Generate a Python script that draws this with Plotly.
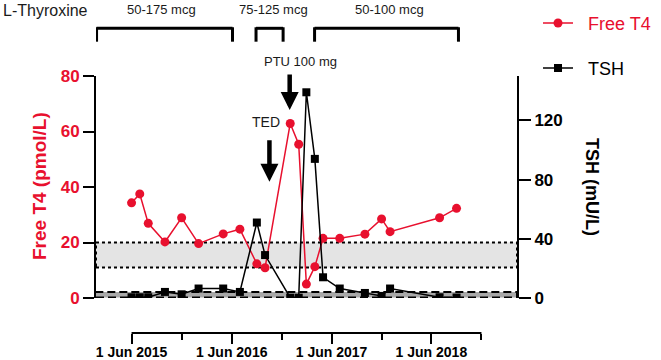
import plotly.graph_objects as go

# ---- data ----
dates = ["2015-06-01", "2015-07-01", "2015-08-01", "2015-10-01", "2015-12-01",
         "2016-02-01", "2016-05-01", "2016-07-01", "2016-09-01", "2016-10-01",
         "2017-01-01", "2017-02-01", "2017-03-01", "2017-04-01", "2017-05-01",
         "2017-07-01", "2017-10-01", "2017-12-01", "2018-01-01", "2018-07-01",
         "2018-09-01"]
free_t4 = [34.3, 37.5, 26.9, 20.2, 28.9, 19.6, 23.1, 24.8, 12.3, 10.9,
           62.9, 55.4, 5.0, 11.3, 21.5, 21.5, 23.0, 28.5, 23.9, 28.9, 32.3]
tsh = [0.5, 0.5, 0.5, 4.1, 2.5, 6.4, 6.4, 4.1, 51, 29,
       0.2, 0.2, 139, 94, 14, 6.4, 3.4, 1.4, 6.4, 0.5, 0.3]

x_tick_vals = ["2015-06-01", "2016-06-01", "2017-06-01", "2018-06-01"]
x_tick_text = ["1 Jun 2015", "1 Jun 2016", "1 Jun 2017", "1 Jun 2018"]
x_minor_vals = ["2015-12-01", "2016-12-01", "2017-12-01", "2018-12-01"]
x_range = ["2015-01-22", "2019-04-10"]
x_line_span = ["2015-06-01", "2018-12-01"]

t4_ticks = [0, 20, 40, 60, 80]
tsh_ticks = [0, 40, 80, 120]
t4_ref = [11, 20]
tsh_ref = [0.4, 4]

bracket_starts = ["2015-01-24", "2016-08-29", "2017-03-31"]
bracket_ends = ["2016-06-04", "2016-12-06", "2018-09-08"]
bracket_labels = ["50-175 mcg", "75-125 mcg", "50-100 mcg"]
bracket_label_dates = ["2015-09-20", "2016-11-01", "2017-12-30"]

RED = "#e8102e"
FONT = "Liberation Sans, Arial, sans-serif"
TXT = "#1a1a1a"

fig = go.Figure()
fig.add_trace(go.Scatter(
    x=dates, y=free_t4, name="\u00a0\u00a0Free T4", mode="lines+markers",
    line=dict(color=RED, width=1.5),
    marker=dict(color=RED, size=9, symbol="circle"),
    legend="legend", yaxis="y", showlegend=True))
fig.add_trace(go.Scatter(
    x=dates, y=tsh, name="\u00a0\u00a0TSH", mode="lines+markers",
    line=dict(color="black", width=1.5),
    marker=dict(color="black", size=8, symbol="square"),
    legend="legend2", yaxis="y2", showlegend=True))

shapes = []
# reference bands
shapes.append(dict(type="rect", xref="paper", yref="y", x0=0, x1=1,
                   y0=t4_ref[0], y1=t4_ref[1], fillcolor="#e4e4e4",
                   line=dict(color="black", width=2, dash="3px,3px"), layer="below"))
shapes.append(dict(type="rect", xref="paper", yref="y2", x0=0, x1=1,
                   y0=tsh_ref[0], y1=tsh_ref[1], fillcolor="#a8a8a8",
                   line=dict(color="black", width=2, dash="8px,4px"), layer="below"))
# x axis line (only over the ticked span)
shapes.append(dict(type="line", xref="x", yref="paper", x0=x_line_span[0], x1=x_line_span[1],
                   y0=0, y1=0, line=dict(color="black", width=2)))
# dosing brackets
by_top, by_bot = 1.1856, 1.1335
for s, e in zip(bracket_starts, bracket_ends):
    shapes.append(dict(type="line", xref="x", yref="paper", x0=s, x1=e, y0=by_top, y1=by_top,
                       line=dict(color="black", width=3)))
    for xx in (s, e):
        shapes.append(dict(type="line", xref="x", yref="paper", x0=xx, x1=xx, y0=by_top + 0.004, y1=by_bot,
                           line=dict(color="black", width=3)))

C = dict(xanchor="center", yanchor="middle")
annotations = []
annotations.append(dict(text="L-Thyroxine", xref="paper", yref="paper", x=-0.119, y=1.253,
                        showarrow=False, font=dict(size=16, color=TXT, family=FONT), **C))
for lbl, d in zip(bracket_labels, bracket_label_dates):
    annotations.append(dict(text=lbl, xref="x", yref="paper", x=d, y=1.257,
                            showarrow=False, font=dict(size=13, color=TXT, family=FONT), **C))
annotations.append(dict(text="PTU 100 mg", xref="x", yref="paper", x="2017-02-07", y=1.058,
                        showarrow=False, font=dict(size=13, color=TXT, family=FONT), **C))
annotations.append(dict(text="TED", xref="x", yref="paper", x="2016-10-05", y=0.821,
                        showarrow=False, font=dict(size=14, color=TXT, family=FONT), **C))
# arrows
annotations.append(dict(text="", xref="x", yref="paper", x="2016-12-30", y=0.8677,
                        ax=0, ay=-37, showarrow=True, arrowhead=2, arrowsize=0.8,
                        arrowwidth=4.5, arrowcolor="black"))
annotations.append(dict(text="", xref="x", yref="paper", x="2016-10-17", y=0.589,
                        ax=0, ay=-43, showarrow=True, arrowhead=2, arrowsize=0.8,
                        arrowwidth=4.5, arrowcolor="black"))
# axis titles
annotations.append(dict(text="<b>Free T4 (pmol/L)</b>", xref="paper", yref="paper", x=-0.133, y=0.572,
                        textangle=-90, showarrow=False, font=dict(size=19, color=RED, family=FONT), **C))
annotations.append(dict(text="<b>TSH (mU/L)</b>", xref="paper", yref="paper", x=1.178, y=0.568,
                        textangle=90, showarrow=False, font=dict(size=18, color="black", family=FONT), **C))

fig.update_layout(
    width=661, height=360,
    margin=dict(l=96, r=144, t=76, b=27, autoexpand=False),
    paper_bgcolor="white", plot_bgcolor="white",
    font=dict(family=FONT, color=TXT),
    showlegend=True,
    shapes=shapes, annotations=annotations,
    xaxis=dict(type="date", range=x_range, anchor="free", position=0,
               showline=False, showgrid=False, zeroline=False,
               tickvals=x_tick_vals, ticktext=x_tick_text,
               ticks="outside", ticklen=10, tickwidth=2, tickcolor="black",
               ticklabelstandoff=-4,
               tickfont=dict(size=14, color="black", family=FONT, weight="bold"),
               minor=dict(tickvals=x_minor_vals, ticks="outside", ticklen=6,
                          tickwidth=2, tickcolor="black", showgrid=False)),
    yaxis=dict(domain=[0.1362, 1], range=[0, 80], tickvals=t4_ticks,
               showline=True, linewidth=2, linecolor="black",
               ticks="outside", ticklen=11, tickwidth=2, tickcolor="black",
               showgrid=False, zeroline=False,
               tickfont=dict(size=17, color=RED, family=FONT, weight="bold")),
    yaxis2=dict(overlaying="y", side="right", range=[0, 150], tickvals=tsh_ticks,
                showline=True, linewidth=2, linecolor="black",
                ticks="outside", ticklen=12, tickwidth=2, tickcolor="black",
                showgrid=False, zeroline=False,
                tickfont=dict(size=17, color="black", family=FONT, weight="bold")),
    legend=dict(x=1.0499, y=1.205, xanchor="left", yanchor="middle", visible=True,
                font=dict(size=18, color=RED, family=FONT), bgcolor="rgba(0,0,0,0)"),
    legend2=dict(x=1.0499, y=1.030, xanchor="left", yanchor="middle", visible=True,
                 font=dict(size=18, color="black", family=FONT), bgcolor="rgba(0,0,0,0)"),
)

fig.write_html("out.html", config={"displayModeBar": False},
               post_script="document.body.style.margin='0';document.body.style.padding='0';")
